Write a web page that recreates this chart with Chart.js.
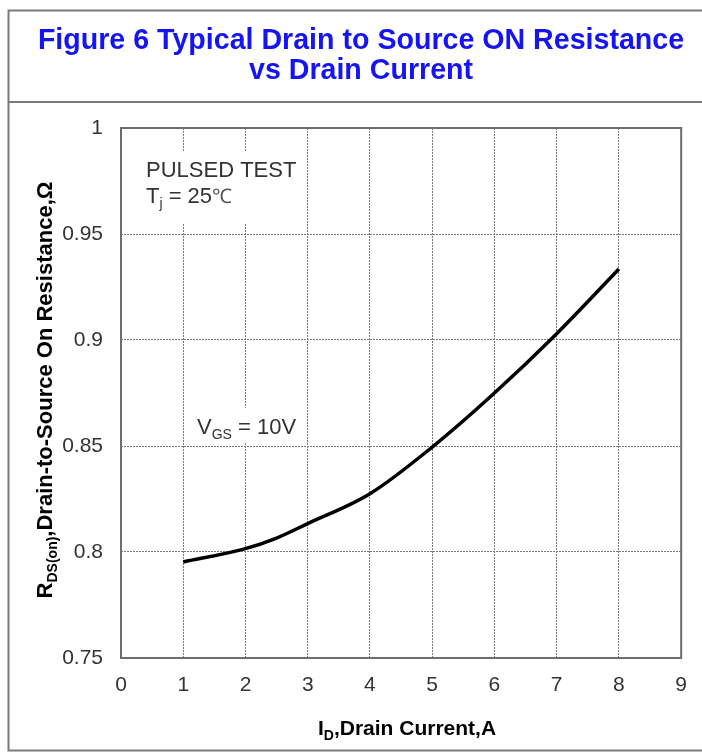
<!DOCTYPE html>
<html>
<head>
<meta charset="utf-8">
<script src="https://cdn.jsdelivr.net/npm/chart.js@4/dist/chart.umd.min.js"></script>
<style>
html,body{margin:0;padding:0;background:#fff;}
#wrap{position:relative;width:702px;height:754px;}
</style>
</head>
<body>
<div id="wrap"><canvas id="c" width="702" height="754"></canvas></div>
<script>
// ---- data ----
const currentA      = [1,      2,      2.5,    3,      4,      5,      6,      7,      8];
const resistanceOhm = [0.7953, 0.8016, 0.8066, 0.8134, 0.8275, 0.8495, 0.8750, 0.9030, 0.9335];
const xTickValues = [0,1,2,3,4,5,6,7,8,9];
const yTickLabels = {"0.75":"0.75","0.8":"0.8","0.85":"0.85","0.9":"0.9","0.95":"0.95","1":"1"};
const titleLines = ["Figure 6 Typical Drain to Source ON Resistance", "vs Drain Current"];

const FONT = "'Liberation Sans', Arial, Helvetica, sans-serif";

function drawRich(ctx, parts, x, y, align) {
  let total = 0;
  parts.forEach(p => { ctx.font = p.font; p.w = ctx.measureText(p.t).width; total += p.w; });
  let cx = align === 'center' ? x - total / 2 : (align === 'right' ? x - total : x);
  parts.forEach(p => {
    ctx.font = p.font;
    ctx.fillStyle = p.color;
    ctx.textAlign = 'left';
    ctx.textBaseline = 'alphabetic';
    ctx.fillText(p.t, cx, y + (p.dy || 0));
    cx += p.w;
  });
}

const decor = {
  id: 'decor',
  beforeDraw(chart) {
    const ctx = chart.ctx;
    ctx.save();
    ctx.fillStyle = '#fff';
    ctx.fillRect(0, 0, chart.width, chart.height);
    ctx.restore();
  },
  afterDraw(chart) {
    const ctx = chart.ctx;
    const a = chart.chartArea;
    ctx.save();
    // outer frame
    ctx.strokeStyle = '#7a7a7a';
    ctx.lineWidth = 2;
    ctx.strokeRect(8.5, 10.5, 720, 740);
    ctx.beginPath(); ctx.moveTo(8.5, 102); ctx.lineTo(702, 102); ctx.stroke();
    // title
    ctx.fillStyle = '#1414f5';
    ctx.font = 'bold 28.6px ' + FONT;
    ctx.textAlign = 'center';
    ctx.textBaseline = 'alphabetic';
    ctx.fillText(titleLines[0], 361, 49);
    ctx.fillText(titleLines[1], 361, 79);
    // annotation boxes
    ctx.fillStyle = '#fff';
    ctx.fillRect(140, 151, 163, 72);
    ctx.fillRect(190, 408, 112, 34);
    const g = '#333';
    ctx.font = '22px ' + FONT;
    ctx.fillStyle = g;
    ctx.textAlign = 'left';
    ctx.textBaseline = 'alphabetic';
    ctx.fillText('PULSED TEST', 146, 177);
    drawRich(ctx, [
      {t:'T', font:'22px ' + FONT, color:g},
      {t:'j', font:'14px ' + FONT, color:g, dy:5},
      {t:' = 25', font:'22px ' + FONT, color:g},
      {t:'\u2103', font:'20px ' + FONT, color:'#555'}
    ], 146, 203, 'left');
    drawRich(ctx, [
      {t:'V', font:'22px ' + FONT, color:g},
      {t:'GS', font:'14px ' + FONT, color:g, dy:5},
      {t:' = 10V', font:'22px ' + FONT, color:g}
    ], 197, 434, 'left');
    // plot frame
    ctx.strokeStyle = '#6e6e6e';
    ctx.lineWidth = 2;
    ctx.strokeRect(a.left, a.top, a.right - a.left, a.bottom - a.top);
    // axis titles
    drawRich(ctx, [
      {t:'I', font:'bold 21px ' + FONT, color:'#000'},
      {t:'D', font:'bold 14px ' + FONT, color:'#000', dy:5},
      {t:',Drain Current,A', font:'bold 21px ' + FONT, color:'#000'}
    ], 407, 735, 'center');
    ctx.translate(52, 390);
    ctx.rotate(-Math.PI / 2);
    drawRich(ctx, [
      {t:'R', font:'bold 22px ' + FONT, color:'#000'},
      {t:'DS(on)', font:'bold 14px ' + FONT, color:'#000', dy:5},
      {t:',Drain-to-Source On Resistance,\u03A9', font:'bold 22px ' + FONT, color:'#000'}
    ], 0, 0, 'center');
    ctx.restore();
  }
};

new Chart(document.getElementById('c'), {
  type: 'line',
  data: {
    datasets: [{
      data: currentA.map((x, i) => ({x: x, y: resistanceOhm[i]})),
      borderColor: '#000',
      borderWidth: 3.5,
      pointRadius: 0,
      cubicInterpolationMode: 'monotone',
      fill: false
    }]
  },
  options: {
    responsive: false,
    animation: false,
    events: [],
    layout: { autoPadding: false, padding: { left: 0, right: 13, top: 128, bottom: 56 } },
    plugins: { legend: { display: false }, title: { display: false }, tooltip: { enabled: false } },
    scales: {
      x: {
        type: 'linear', min: 0, max: 9,
        afterFit(s) { s.height = 40; },
        afterBuildTicks(s) { s.ticks = xTickValues.map(v => ({value: v})); },
        grid: { color: '#7a7a7a', lineWidth: 1, drawTicks: false },
        border: { display: false, dash: [2, 1] },
        ticks: { padding: 15, color: '#333', font: { family: FONT, size: 21 }, maxRotation: 0,
                 callback: v => String(v) }
      },
      y: {
        type: 'linear', min: 0.75, max: 1,
        afterFit(s) { s.width = 121; },
        afterBuildTicks(s) { s.ticks = Object.keys(yTickLabels).map(k => ({value: parseFloat(k)})); },
        grid: { color: '#7a7a7a', lineWidth: 1, drawTicks: false },
        border: { display: false, dash: [2, 1] },
        ticks: { padding: 18, color: '#333', font: { family: FONT, size: 21 },
                 callback: v => yTickLabels[String(Math.round(v * 100) / 100)] }
      }
    }
  },
  plugins: [decor]
});
</script>
</body>
</html>
